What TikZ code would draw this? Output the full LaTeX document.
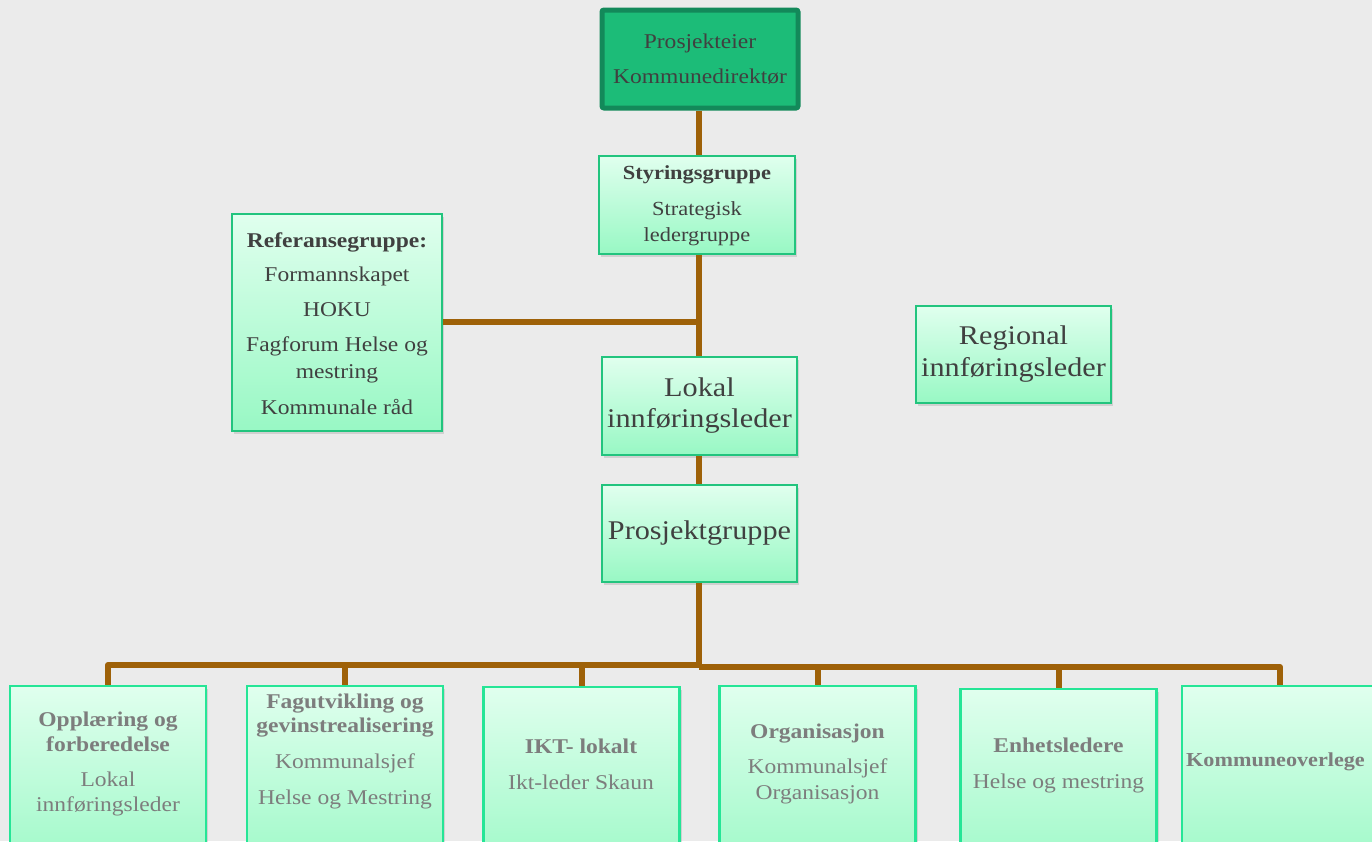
\documentclass[tikz,border=0pt]{standalone}
\usepackage{fontspec}
\setmainfont{Liberation Serif}[FakeStretch=1.12]
\usetikzlibrary{shadows}
\definecolor{bgc}{RGB}{235,235,235}
\definecolor{brownc}{RGB}{158,97,8}
\definecolor{eierfill}{RGB}{28,188,120}
\definecolor{eierdraw}{RGB}{19,137,90}
\definecolor{boxtop}{RGB}{224,255,238}
\definecolor{boxbot}{RGB}{152,248,196}
\definecolor{upperdraw}{RGB}{34,196,126}
\definecolor{lowerdraw}{RGB}{37,229,150}
\definecolor{darktext}{RGB}{64,64,64}
\definecolor{greytext}{RGB}{125,125,125}
\tikzset{
  conn/.style={draw=brownc, line width=6pt, line join=round},
  boxbase/.style={rectangle, inner sep=0pt, top color=boxtop, bottom color=boxbot,
     drop shadow={shadow xshift=2pt, shadow yshift=-3pt, opacity=0.25}},
  upperbox/.style={boxbase, draw=upperdraw, line width=2.5pt},
  lowerbox/.style={boxbase, draw=lowerdraw, line width=2.5pt, minimum width=196pt, minimum height=200pt},
  eierbox/.style={rectangle, inner sep=0pt, fill=eierfill, draw=eierdraw, line width=5pt, rounded corners=2pt},
  uppertext/.style={align=center, text=darktext, inner sep=0pt},
  lowertext/.style={align=center, text=greytext, inner sep=0pt},
}
\begin{document}
\begin{tikzpicture}[x=1pt,y=-1pt]
\fill[bgc] (0,0) rectangle (1372,841);
\useasboundingbox (0,0) rectangle (1372,841);
\clip (0,0) rectangle (1372,841);
\coordinate (spine) at (699,0);
% boxes
\node[eierbox, minimum width=196pt, minimum height=98pt] (eier) at (700,59) {};
\node[upperbox, minimum width=196pt, minimum height=98pt] (styr) at (697,205) {};
\node[upperbox, minimum width=210pt, minimum height=217pt] (ref) at (337,322.5) {};
\node[upperbox, minimum width=195pt, minimum height=97pt] (reg) at (1013.5,354.5) {};
\node[upperbox, minimum width=195pt, minimum height=98pt] (lokal) at (699.5,406) {};
\node[upperbox, minimum width=195pt, minimum height=97pt] (prosj) at (699.5,533.5) {};
\node[lowerbox] (b1) at (108,786) {};
\node[lowerbox] (b2) at (345,786) {};
\node[lowerbox] (b3) at (581.5,787) {};
\node[lowerbox] (b4) at (817.5,786) {};
\node[lowerbox] (b5) at (1058.5,789) {};
\node[lowerbox] (b6) at (1280,786) {};
% connectors
\coordinate (refy) at (0,322);
\coordinate (busL) at (0,665);
\coordinate (busR) at (0,667);
\draw[conn] (eier.south -| spine) -- (styr.north -| spine);
\draw[conn] (styr.south -| spine) -- (lokal.north -| spine);
\draw[conn] (ref.east |- refy) -- (spine |- refy);
\draw[conn] (lokal.south -| spine) -- (prosj.north -| spine);
\draw[conn] (prosj.south -| spine) -- (spine |- busR);
\draw[conn] (b1.north) -- (b1.north |- busL) -- (spine |- busL);
\draw[conn] (b2.north) -- (b2.north |- busL);
\draw[conn] (b3.north) -- (b3.north |- busL);
\draw[conn] (spine |- busR) -- (b6.north |- busR) -- (b6.north);
\draw[conn] (b4.north) -- (b4.north |- busR);
\draw[conn] (b5.north) -- (b5.north |- busR);
% texts
\node[uppertext, font=\fontsize{21}{35}\selectfont] (teier) at (eier.center) {Prosjekteier\\Kommunedirektør};
\node[uppertext, font=\fontsize{20}{26}\selectfont] (tstyr) at (697,206) {\textbf{Styringsgruppe}\\[10pt]Strategisk\\ledergruppe};
\node[uppertext, font=\fontsize{21}{27}\selectfont] (tref) at (337,324) {\textbf{Referansegruppe:}\\[7pt]Formannskapet\\[8pt]HOKU\\[8pt]Fagforum Helse og\\mestring\\[9pt]Kommunale råd};
\node[uppertext, font=\fontsize{27}{32}\selectfont] (treg) at (1013.5,354) {Regional\\innføringsleder};
\node[uppertext, font=\fontsize{27}{31}\selectfont] (tlokal) at (699.5,405.5) {Lokal\\innføringsleder};
\node[uppertext, font=\fontsize{27}{31}\selectfont] (tprosj) at (699.5,533) {Prosjektgruppe};
\node[lowertext, font=\fontsize{21}{25}\selectfont] (tb1) at (108,764) {\textbf{Opplæring og}\\\textbf{forberedelse}\\[10pt]Lokal\\innføringsleder};
\node[lowertext, font=\fontsize{21}{24}\selectfont] (tb2) at (345,751) {\textbf{Fagutvikling og}\\\textbf{gevinstrealisering}\\[12pt]Kommunalsjef\\[12pt]Helse og Mestring};
\node[lowertext, font=\fontsize{21}{36}\selectfont] (tb3) at (581,764) {\textbf{IKT- lokalt}\\Ikt-leder Skaun};
\node[lowertext, font=\fontsize{21}{26}\selectfont] (tb4) at (817.5,763.5) {\textbf{Organisasjon}\\[9pt]Kommunalsjef\\Organisasjon};
\node[lowertext, font=\fontsize{21}{36}\selectfont] (tb5) at (1058.5,765) {\textbf{Enhetsledere}\\Helse og mestring};
\node[lowertext, font=\fontsize{19.8}{24}\selectfont, anchor=west] (tb6) at (1186,762) {\textbf{Kommuneoverlege}};
\end{tikzpicture}
\end{document}
